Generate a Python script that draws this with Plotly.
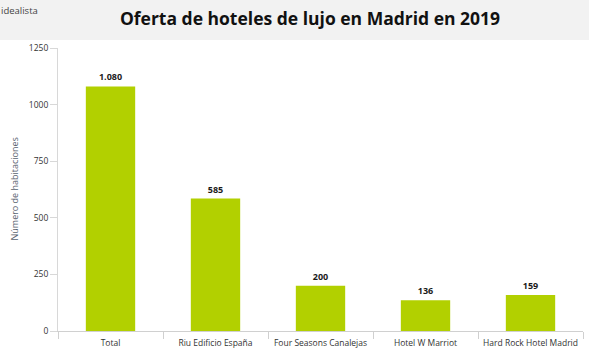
import plotly.graph_objects as go

categories = ["Total", "Riu Edificio España", "Four Seasons Canalejas", "Hotel W Marriot", "Hard Rock Hotel Madrid"]
values = [1080, 585, 200, 136, 159]
y_ticks = [0, 250, 500, 750, 1000, 1250]
y_tick_labels = ["0", "250", "500", "750", "1000", "1250"]
title = "Oferta de hoteles de lujo en Madrid en 2019"
y_title = "Número de habitaciones"
source = "idealista"

def fmt(v):
    return f"{v:,}".replace(",", ".")

W, H = 589, 354
ml, mr, mt, mb = 58, 6, 48, 23
pw, ph = W - ml - mr, H - mt - mb

fig = go.Figure(go.Bar(
    x=categories, y=values,
    marker=dict(color="#b2d000", line=dict(width=0)),
    width=0.47,
    text=[fmt(v) for v in values],
    textposition="outside",
    textfont=dict(size=9, color="#1a1a1a", family="Open Sans", weight="bold"),
    cliponaxis=False,
    hoverinfo="skip",
))

fig.update_layout(
    width=W, height=H,
    margin=dict(l=ml, r=mr, t=mt, b=mb, pad=0, autoexpand=False),
    paper_bgcolor="white", plot_bgcolor="white",
    showlegend=False,
    font=dict(family="Open Sans", color="#333"),
    title=dict(text=title, x=310 / W, xanchor="center", y=1 - 19 / H, yanchor="middle",
               yref="container", xref="container",
               font=dict(size=17.5, color="#111", family="Open Sans", weight="bold")),
    shapes=[dict(type="rect", xref="paper", yref="paper", x0=-ml / pw, x1=1 + mr / pw,
                 y0=1 + (mt - 40) / ph, y1=1 + mt / ph,
                 fillcolor="#f2f2f2", line=dict(width=0), layer="below")],
    annotations=[
        dict(text=source, xref="paper", yref="paper", x=0, y=1, xshift=-ml - 1, yshift=mt - 10,
             xanchor="left", yanchor="middle", showarrow=False,
             font=dict(size=9.5, color="#444", family="Open Sans")),
        dict(text=y_title, xref="paper", yref="paper", x=0, y=0.5, xshift=14 - ml,
             xanchor="center", yanchor="middle", textangle=-90, showarrow=False,
             font=dict(size=9, color="#5a6470", family="Open Sans")),
    ],
)

fig.update_xaxes(
    showline=True, linecolor="#d0d0d0", linewidth=1,
    ticks="outside", tickson="boundaries", ticklen=7, tickcolor="#d0d0d0",
    tickfont=dict(size=8.5, color="#333"), tickangle=0, automargin=False,
    ticklabelstandoff=4,
    showgrid=False, zeroline=False,
)
fig.update_yaxes(
    range=[0, 1250], tickvals=y_ticks, ticktext=y_tick_labels,
    showline=True, linecolor="#d8d8d8", linewidth=1,
    ticks="outside", ticklen=7, tickcolor="#d8d8d8",
    tickfont=dict(size=8.5, color="#333"), automargin=False,
    showgrid=False, zeroline=False,
)

fig.write_html("out.html")
